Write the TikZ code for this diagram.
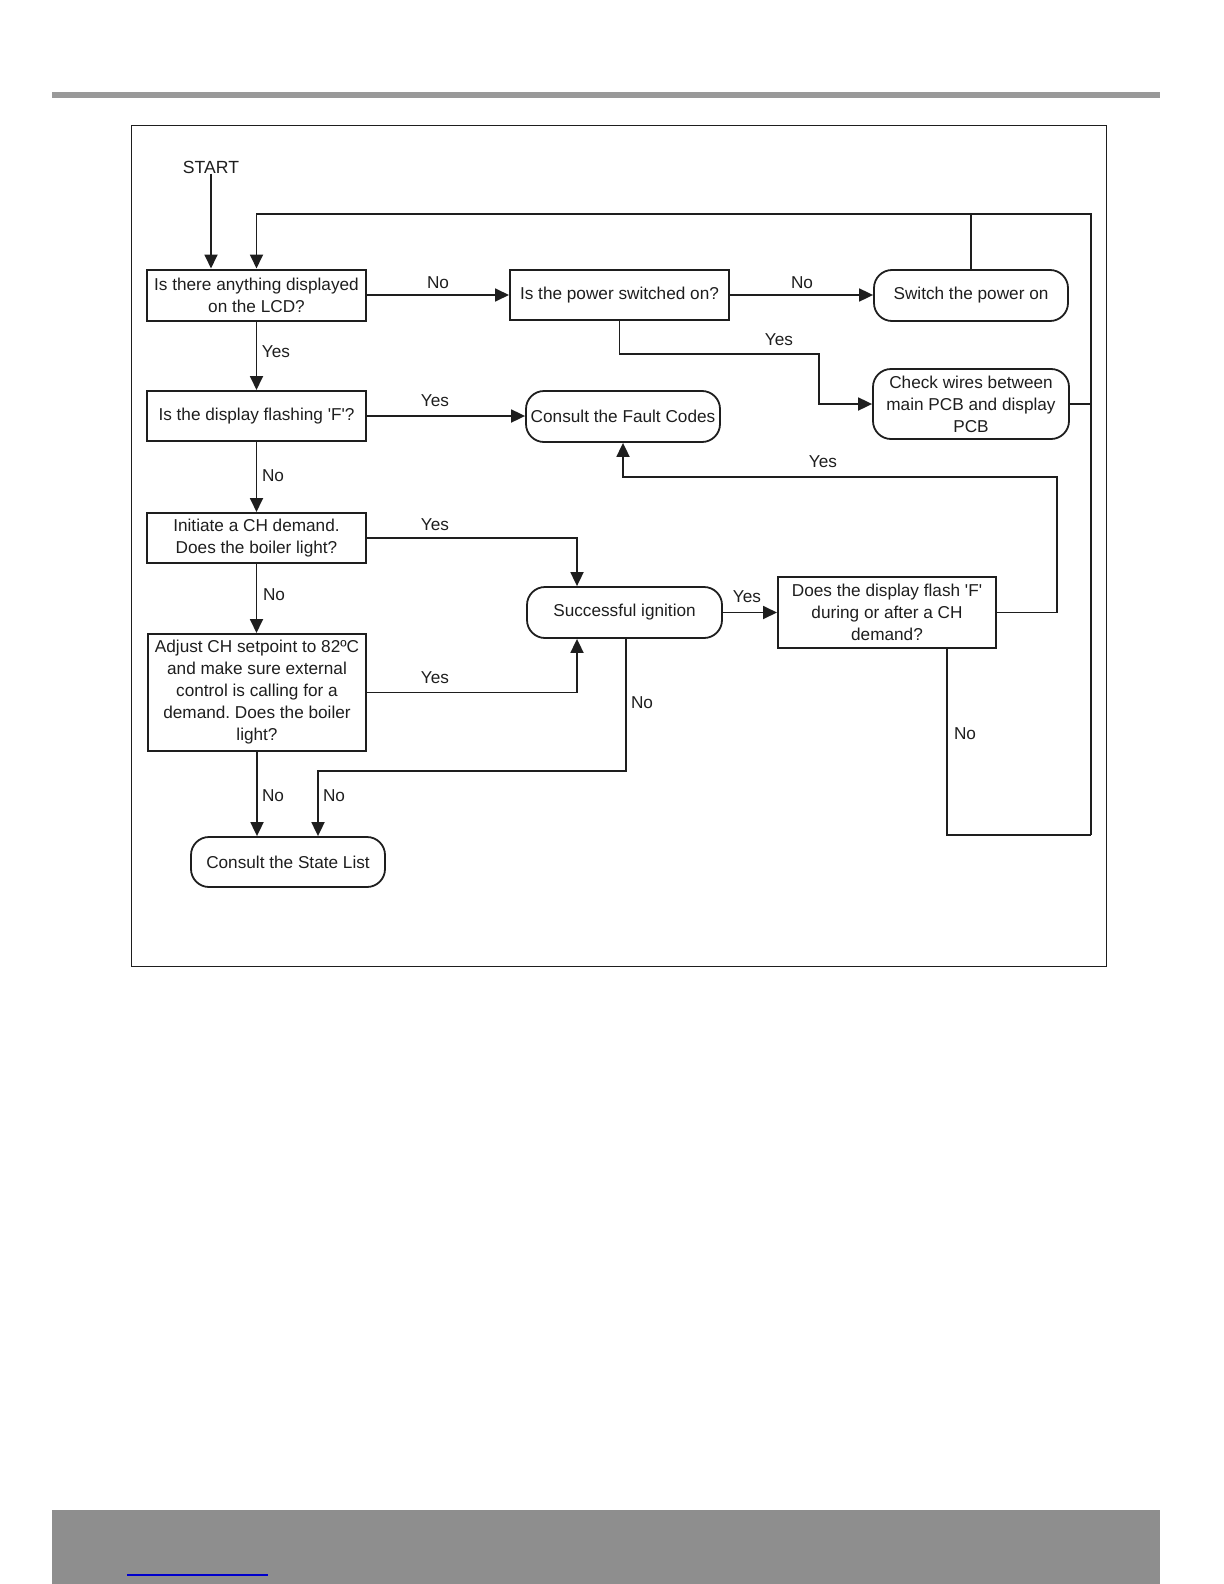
\documentclass[tikz,border=0pt]{standalone}
\usepackage{fontspec}
\setmainfont{Liberation Sans}
\usetikzlibrary{arrows.meta}
\definecolor{ink}{HTML}{1E1E1E}
\definecolor{bargray}{HTML}{999999}
\definecolor{footgray}{HTML}{8E8E8E}
\tikzset{
  txt/.style={font=\fontsize{8.6}{11}\selectfont, text=ink, inner sep=0pt},
  sqbox/.style={txt, draw=ink, line width=1pt, align=center},
  rbox/.style={txt, draw=ink, line width=0.9pt, rounded corners=9pt, align=center},
  conn/.style={draw=ink, line width=0.9pt},
  thinconn/.style={draw=ink, line width=0.55pt},
  arr/.style={conn, -{Triangle[length=7pt,width=6.5pt]}},
  lbl/.style={txt}
}
\frenchspacing
\begin{document}
\begin{tikzpicture}[x=0.5pt,y=-0.5pt]
\useasboundingbox (0,0) rectangle (1224,1584);
% page decorations
\fill[bargray] (52,92) rectangle (1160,98);
\fill[footgray] (52,1510) rectangle (1160,1584);
\draw[blue!80!black, line width=0.7pt] (127,1575) -- (268,1575);
\draw[ink, line width=0.5pt] (131,126) rectangle (1106,966);

% nodes
\node[txt, font=\fontsize{8.8}{11}\selectfont] (start) at (211,167) {START};
\node[sqbox, minimum width=109.5pt, minimum height=25.5pt] (n1) at (256.5,295) {Is there anything displayed\\on the LCD?};
\node[sqbox, minimum width=109.5pt, minimum height=25pt] (n2) at (619.5,295) {Is the power switched on?};
\node[rbox, minimum width=97pt, minimum height=25.5pt] (n3) at (971,295.5) {Switch the power on};
\node[rbox, minimum width=98pt, minimum height=35pt] (n4) at (971,404) {Check wires between\\main PCB and display\\PCB};
\node[sqbox, minimum width=109.5pt, minimum height=25pt] (n5) at (256.5,416) {Is the display flashing \textquotesingle F\textquotesingle ?};
\node[rbox, minimum width=97pt, minimum height=25.5pt] (n6) at (623,416.5) {Consult the Fault Codes};
\node[sqbox, minimum width=109.5pt, minimum height=25pt] (n7) at (256.5,538) {Initiate a CH demand.\\Does the boiler light?};
\node[rbox, minimum width=97.5pt, minimum height=25.5pt] (n8) at (624.5,612.5) {Successful ignition};
\node[sqbox, minimum width=109pt, minimum height=35.5pt] (n9) at (887,612.5) {Does the display flash \textquotesingle F\textquotesingle\\during or after a CH\\demand?};
\node[sqbox, minimum width=109pt, minimum height=58.5pt] (n10) at (257,692.5) {Adjust CH setpoint to 82ºC\\and make sure external\\control is calling for a\\demand. Does the boiler\\light?};
\node[rbox, minimum width=97pt, minimum height=25pt] (n11) at (288,862) {Consult the State List};

% helper coordinates
\coordinate (tl) at (256.5,214);
\coordinate (tr) at (1091,214);
\coordinate (br) at (1091,835);
\coordinate (yb) at (819,354);
\coordinate (fr) at (1057,477);
\coordinate (nb) at (318,771);

% connectors
\draw[arr] (start.south) -- (start.south |- n1.north);
\draw[arr] (n3.north) |- (tl) -- (n1.north);
\draw[conn] ([xshift=30pt]n9.south) |- (br);
\draw[thinconn] (br) -- (tr) -- (n3.north |- tr);
\draw[conn] (n4.east) -- (n4.east -| tr);
\draw[arr] (n1.east) -- (n1.east -| n2.west);
\draw[arr] (n2.east) -- (n2.east -| n3.west);
\draw[arr] (n2.south) |- (yb) |- (n4.west);
\draw[arr] (n1.south) -- (n5.north);
\draw[arr] (n5.east) -- (n5.east -| n6.west);
\draw[arr] (n5.south) -- (n7.north);
\draw[arr] (n7.east) -| ([xshift=-23.75pt]n8.north);
\draw[arr] (n7.south) -- (n7.south |- n10.north);
\draw[arr] (n10.east) -| ([xshift=-23.75pt]n8.south);
\draw[arr] (n8.east) -- (n9.west);
\draw[arr] (n9.east) -| (fr) -| (n6.south);
\draw[arr] ([xshift=0.75pt]n8.south) |- (nb) -- ([xshift=15pt]n11.north);
\draw[arr] (n10.south) -- (n10.south |- n11.north);

% labels
\node[lbl] (l1) at (438,283) {No};
\node[lbl] (l2) at (802,283) {No};
\node[lbl] (l3) at (779,340) {Yes};
\node[lbl] (l4) at (276,352) {Yes};
\node[lbl] (l5) at (435,401) {Yes};
\node[lbl] (l6) at (273,476) {No};
\node[lbl] (l7) at (435,525) {Yes};
\node[lbl] (l8) at (274,595) {No};
\node[lbl] (l9) at (435,678) {Yes};
\node[lbl] (l10) at (747,597) {Yes};
\node[lbl] (l11) at (823,462) {Yes};
\node[lbl] (l12) at (642,703) {No};
\node[lbl] (l13) at (334,796) {No};
\node[lbl] (l14) at (273,796) {No};
\node[lbl] (l15) at (965,734) {No};
\end{tikzpicture}
\end{document}
